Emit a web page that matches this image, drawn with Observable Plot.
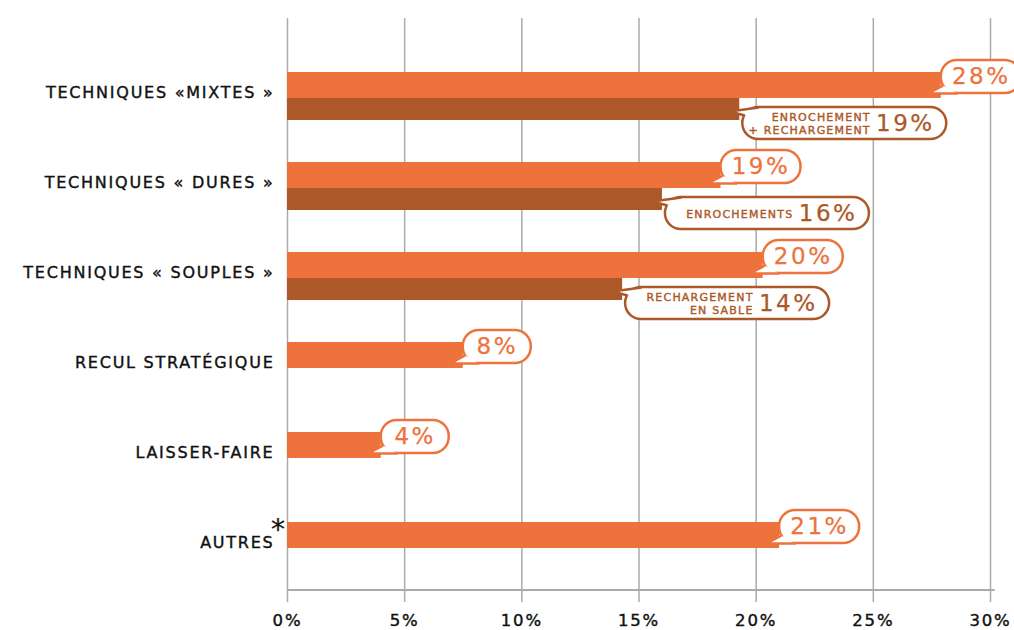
<!DOCTYPE html>
<html>
<head>
<meta charset="utf-8">
<script src="https://cdn.jsdelivr.net/npm/d3@7"></script>
<script src="https://cdn.jsdelivr.net/npm/@observablehq/plot@0.6"></script>
<style>
  html, body { margin: 0; padding: 0; background: #fff; }
  svg text, svg tspan { letter-spacing: 0.11em; }
</style>
</head>
<body>
<div id="chart"></div>
<script>
// ---- data ----
const categories = ["TECHNIQUES «MIXTES »", "TECHNIQUES « DURES »", "TECHNIQUES « SOUPLES »", "RECUL STRATÉGIQUE", "LAISSER-FAIRE", "AUTRES"];
const totalValues = [27.9, 18.5, 20.3, 7.5, 4.0, 21.0];
const totalLabels = ["28%", "19%", "20%", "8%", "4%", "21%"];
const subCategories = ["TECHNIQUES «MIXTES »", "TECHNIQUES « DURES »", "TECHNIQUES « SOUPLES »"];
const subValues = [19.3, 16.0, 14.3];
const subLabels = ["19%", "16%", "14%"];
const subNames = ["ENROCHEMENT\n+ RECHARGEMENT", "ENROCHEMENTS", "RECHARGEMENT\nEN SABLE"];
const xTicks = [0, 5, 10, 15, 20, 25, 30];

// ---- styling ----
const LIGHT = "#ee723c";
const DARK = "#ad5828";
const GRID = "#aaaaaa";
const W = 1014, H = 630, ML = 287, MR = 24, MT = 18, MB = 38;
const k = (W - ML - MR) / 30; // px per percent unit

const totals = categories.map((c, i) => ({cat: c, v: totalValues[i], label: totalLabels[i]}));
const subs = subCategories.map((c, i) => ({cat: c, v: subValues[i], label: subLabels[i], name: subNames[i]}));

const lightW = d => 44 + 12 * d.label.length;
const darkW = 204;

const tailDown = {draw(ctx) { ctx.moveTo(2, -8); ctx.lineTo(-13, 0); ctx.lineTo(16, 0); }};
const tailUp = {draw(ctx) { ctx.moveTo(16, 0); ctx.lineTo(-13, 4); ctx.lineTo(2, 8); }};

const chart = Plot.plot({
  width: W, height: H,
  marginLeft: ML, marginRight: MR, marginTop: MT, marginBottom: MB,
  style: {fontFamily: "DejaVu Sans", background: "#fff"},
  x: {domain: [0, 30], label: null},
  y: {domain: categories, range: [50, 590], padding: 0, label: null},
  marks: [
    Plot.ruleX(xTicks, {stroke: GRID, strokeWidth: 1.5}),
    Plot.barX([categories[categories.length - 1]], {y: d => d, x1: 0, x2: 30.2, fill: GRID, insetTop: 89, insetBottom: -1}),
    Plot.barX(subs, {x: "v", y: "cat", fill: DARK, insetTop: 43, insetBottom: 20}),
    Plot.barX(totals, {x: "v", y: "cat", fill: LIGHT, insetTop: 22, insetBottom: 42}),
    // light bubbles
    Plot.barX(totals, {x1: "v", x2: d => d.v + lightW(d) / k, y: "cat", insetTop: 10, insetBottom: 47, rx: 16, fill: "#fff", stroke: LIGHT, strokeWidth: 2.5}),
    Plot.dot(totals, {x: "v", y: "cat", dy: -2, symbol: tailDown, fill: "#fff", stroke: LIGHT, strokeWidth: 2.5, strokeLinejoin: "miter"}),
    Plot.text(totals, {x: d => d.v + lightW(d) / (2 * k), y: "cat", dy: -18.5, text: "label", fill: LIGHT, fontSize: 23, textAnchor: "middle"}),
    // dark bubbles
    Plot.barX(subs, {x1: d => d.v + 3 / k, x2: d => d.v + (3 + darkW) / k, y: "cat", insetTop: 57, insetBottom: 1, rx: 16, fill: "#fff", stroke: DARK, strokeWidth: 2.5}),
    Plot.dot(subs, {x: "v", y: "cat", dx: 3, dy: 12, symbol: tailUp, fill: "#fff", stroke: DARK, strokeWidth: 2.5, strokeLinejoin: "miter"}),
    Plot.text(subs, {x: "v", y: "cat", dx: 3 + darkW - 12, dy: 28, text: "label", fill: DARK, fontSize: 23, textAnchor: "end"}),
    Plot.text(subs, {x: "v", y: "cat", dx: 3 + darkW - 76, dy: 28, text: "name", fill: DARK, fontSize: 11, textAnchor: "end", lineHeight: 1.15}),
    // asterisk for AUTRES
    Plot.text(["*"], {x: 0, y: () => categories[categories.length - 1], text: d => d, dx: -8, dy: -15, fontSize: 28, fill: "#111", textAnchor: "middle"}),
    Plot.axisY({tickSize: 0, tickPadding: 13, fontSize: 16, fill: "#111", dy: -3, label: null}),
    Plot.axisX({ticks: xTicks, tickFormat: d => d + "%", tickSize: 10, tickPadding: 12, stroke: GRID, strokeWidth: 1.5, fill: "#111", fontSize: 16.5, label: null})
  ]
});
document.getElementById("chart").appendChild(chart);
// embolden text slightly (medium weight look)
d3.select(chart).selectAll("text").each(function() {
  const f = getComputedStyle(this).fill;
  const big = parseFloat(getComputedStyle(this).fontSize) > 20;
  d3.select(this).attr("stroke", f).attr("stroke-width", big ? 0.25 : 0.4).attr("paint-order", "fill");
});
</script>
</body>
</html>
